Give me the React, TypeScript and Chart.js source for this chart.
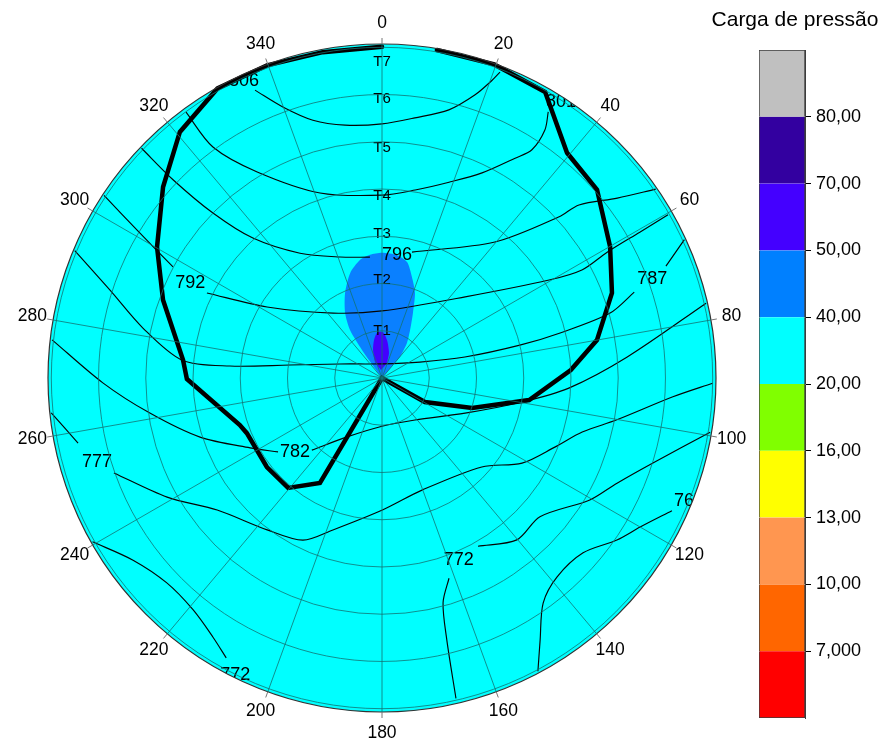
import React, { useEffect, useRef } from 'react';
import { Chart, registerables } from 'chart.js';

Chart.register(...registerables);

type P = [number, number]; // [bearing in degrees, radial value]

const FONT = '"Liberation Sans", Arial, Helvetica, sans-serif';

// ---- polar axis ----
const RMAX = 7.07;
const ringValues = [1, 2, 3, 4, 5, 6, 7, RMAX];
const bearingLabels = ['0', '20', '40', '60', '80', '100', '120', '140', '160', '180', '200', '220', '240', '260', '280', '300', '320', '340'];

// ---- thick black envelope (bearing, radius) ----
const boundaryPath: P[] = [
  [9.5, 7.04], [19.7, 7.05], [29.7, 6.97], [39.4, 6.17], [48.8, 6.05], [60.1, 5.57], [69.7, 5.19],
  [80.0, 4.62], [87.6, 4.0], [98.5, 3.15], [108.4, 2.01], [119.2, 1.04], [165, 0],
  [210.6, 2.58], [220.5, 3.06], [232.3, 3.08], [247.8, 3.09], [251.7, 3.17], [269.7, 4.13], [275.2, 4.23],
  [289.6, 4.92], [300.2, 5.51], [311.1, 6.15], [320.6, 6.74], [330.4, 7.05], [339.8, 7.05], [349.7, 7.01], [360, 7.01],
];

// ---- filled zones ----
const blobOuter: P[] = [
  [180, 0], [324.5, 0.73], [326.3, 1.22], [330.4, 1.58], [336.5, 1.96], [343.1, 2.32], [349.4, 2.54], [354.4, 2.62],
  [0, 2.65], [7.0, 2.62], [12.2, 2.51], [16.5, 2.23], [21.2, 1.93], [25.5, 1.52], [30.3, 1.18], [35.5, 0.91], [40.6, 0.59],
];
const blobInner: P[] = [
  [352.9, 0.17], [336.4, 0.37], [342.2, 0.62], [348.1, 0.82], [353.7, 0.96], [1.2, 0.97], [7.5, 0.81], [15.6, 0.55], [18.4, 0.33],
];

// ---- contour lines (runs, broken at labels) ----
const contour806: P[][] = [
  [[336.2, 6.66], [339.9, 6.11], [345.0, 5.65], [351.7, 5.41], [0, 5.38], [7.2, 5.55], [14.0, 5.85], [18.2, 6.31], [20.3, 6.72], [21.1, 6.94]],
];
const contour801: P[][] = [
  [[323.6, 6.99], [323.8, 6.06], [328.8, 5.10], [341.5, 4.13], [0, 3.87], [10.0, 4.04], [18.9, 4.38], [26.0, 4.83], [31.2, 5.44], [33.3, 5.78], [33.3, 6.28], [32.0, 6.64]],
];
const contour796: P[][] = [
  [[313.7, 7.04], [313.5, 6.09], [314.3, 5.0], [317.3, 4.03], [326.7, 3.16], [340.9, 2.71], [354.3, 2.57]],
  [[13.4, 2.74], [39.7, 3.74], [47.7, 5.07], [48.7, 5.55], [52.6, 6.27], [55.4, 7.04]],
];
const contour792: P[][] = [
  [[303.3, 7.04], [300.9, 5.97], [298.0, 5.01]],
  [[295.9, 4.12], [301.7, 2.86], [323.0, 1.72], [0, 1.42], [45.7, 2.46], [59.6, 4.10], [61.6, 4.81], [60.8, 5.46], [60.5, 6.27], [60.3, 6.97]],
];
const contour787: P[][] = [
  [[292.5, 7.04], [287.9, 6.05], [281.8, 5.17], [275.1, 4.25], [274.5, 3.23], [278.0, 1.97], [288.4, 0.94], [0, 0.30],
    [67.2, 0.87], [75.8, 1.81], [76.6, 3.00], [75.8, 3.89], [74.1, 5.02], [71.2, 5.64]],
  [[68.5, 6.46], [65.4, 7.04]],
];
const contour782: P[][] = [
  [[276.6, 7.03], [269.0, 5.91], [261.4, 4.97], [252.0, 4.05], [242.1, 3.16], [234.6, 2.70]],
  [[224.2, 2.13], [210.7, 1.45], [180, 1.02], [141.8, 1.13], [112.9, 1.91], [99.7, 3.01], [93.1, 3.96], [85.1, 5.21], [77.0, 7.04]],
];
const contour777: P[][] = [
  [[264.0, 7.04], [257.9, 6.58]],
  [[250.5, 6.02], [241.0, 5.20], [231.3, 4.47], [217.1, 4.03], [206.0, 3.82], [197.9, 3.38], [179.6, 2.79], [160.4, 2.52],
    [131.7, 2.83], [121.3, 3.47], [111.8, 3.94], [105.1, 4.39], [100.1, 5.05], [93.7, 6.17], [90.9, 7.0]],
];
const contour772: P[][] = [
  [[240.5, 7.04], [233.8, 6.53], [226.4, 6.29], [219.2, 6.33], [213.1, 6.55], [209.1, 6.78]],
  [[167.0, 6.96], [166.1, 5.71], [164.8, 4.93], [161.5, 4.47]],
  [[150.3, 4.10], [140.2, 4.46], [131.3, 4.45], [120.4, 5.10], [114.1, 5.45], [107.4, 6.01], [99.4, 7.04]],
];
const contour767: P[][] = [
  [[114.6, 6.75], [120.0, 6.31], [124.6, 6.04], [131.0, 5.64], [138.7, 5.61], [144.4, 5.86], [148.9, 6.48], [152.0, 7.03]],
];

// contour value labels: [text, bearing, radius]
const contourLabels: [string, number, number][] = [
  ['806', 335.1, 6.94], ['801', 33.0, 6.96], ['796', 7.0, 2.62], ['792', 296.3, 4.53], ['787', 69.9, 6.09],
  ['782', 229.6, 2.42], ['777', 253.6, 6.29], ['772', 157.1, 4.18], ['772', 206.3, 7.01], ['767', 111.8, 7.0],
];

// station labels along bearing 0
const stationNames = ['T1', 'T2', 'T3', 'T4', 'T5', 'T6', 'T7'];
const stationRadii = [0.99, 2.07, 3.06, 3.85, 4.88, 5.91, 6.69];
const stationBearing = 0;

// ---- colour scale ----
const legendTitle = 'Carga de pressão';
const legendColors = ['#FF0000', '#FF6600', '#FF9650', '#FFFF00', '#80FF00', '#00FFFF', '#0080FF', '#4400FF', '#3300A0', '#C0C0C0'];
const legendTickLabels = ['7,000', '10,00', '13,00', '16,00', '20,00', '40,00', '50,00', '70,00', '80,00'];

// ---------------------------------------------------------------
const rad = (d: number) => (d * Math.PI) / 180;
const toXY = (pts: P[]) => pts.map(([b, r]) => ({ x: r * Math.sin(rad(b)), y: r * Math.cos(rad(b)) }));

const contourRuns: P[][] = [
  ...contour806, ...contour801, ...contour796, ...contour792, ...contour787,
  ...contour782, ...contour777, ...contour772, ...contour767,
];

const polarDecor = {
  id: 'polarDecor',
  beforeDatasetsDraw(chart: any) {
    const r = chart.scales.r;
    const ctx = chart.ctx;
    ctx.save();
    ctx.beginPath();
    ctx.arc(r.xCenter, r.yCenter, r.drawingArea, 0, Math.PI * 2);
    ctx.fillStyle = '#00FFFF';
    ctx.fill();
    ctx.restore();
  },
  beforeDatasetDraw(chart: any, args: any) {
    if (args.index !== 0) return;
    const r = chart.scales.r;
    const ctx = chart.ctx;
    const at = (b: number, v: number) => r.getPointPosition(0, r.getDistanceFromCenterForValue(v), rad(b));
    ctx.save();
    ctx.beginPath();
    ctx.arc(r.xCenter, r.yCenter, r.drawingArea, 0, Math.PI * 2);
    ctx.clip();
    ctx.fillStyle = '#000';
    ctx.textAlign = 'center';
    ctx.textBaseline = 'middle';
    ctx.font = `15px ${FONT}`;
    stationNames.forEach((name, i) => {
      const p = at(stationBearing, stationRadii[i]);
      ctx.fillText(name, p.x, p.y);
    });
    ctx.font = `18px ${FONT}`;
    contourLabels.forEach(([t, b, v]) => {
      const p = at(b, v);
      ctx.fillText(t, p.x, p.y);
    });
    ctx.restore();
  },
  afterDraw(chart: any) {
    const r = chart.scales.r;
    const ctx = chart.ctx;
    ctx.save();
    ctx.strokeStyle = '#777';
    ctx.lineWidth = 1;
    ctx.fillStyle = '#000';
    ctx.font = `17.5px ${FONT}`;
    ctx.textAlign = 'center';
    ctx.textBaseline = 'middle';
    bearingLabels.forEach((lab, i) => {
      const a = r.getPointPosition(i, r.drawingArea);
      const b = r.getPointPosition(i, r.drawingArea + 6);
      ctx.beginPath();
      ctx.moveTo(a.x, a.y);
      ctx.lineTo(b.x, b.y);
      ctx.stroke();
      const t = r.getPointPosition(i, r.drawingArea + 21);
      ctx.fillText(lab, t.x, t.y);
    });
    ctx.restore();
  },
};

function mainConfig(): any {
  const datasets: any[] = [
    {
      label: 'envoltória',
      data: toXY(boundaryPath),
      showLine: true,
      borderColor: '#000',
      borderWidth: 4.5,
      borderCapStyle: 'round',
      tension: 0,
      fill: false,
    },
    ...contourRuns.map((run, i) => ({
      label: `contorno ${i}`,
      data: toXY(run),
      showLine: true,
      borderColor: '#050505',
      borderWidth: 1.15,
      tension: 0.3,
      fill: false,
    })),
    {
      label: '50-70',
      data: toXY(blobInner),
      showLine: true,
      borderWidth: 0,
      backgroundColor: '#4400FF',
      fill: 'shape',
      tension: 0.25,
    },
    {
      label: '40-50',
      data: toXY(blobOuter),
      showLine: true,
      borderWidth: 0,
      backgroundColor: '#0A80FF',
      fill: 'shape',
      tension: 0.25,
    },
  ];
  return {
    type: 'scatter',
    data: { labels: bearingLabels, datasets },
    options: {
      animation: false,
      responsive: false,
      events: [],
      layout: { padding: { left: 48, right: 168, top: 44, bottom: 28 } },
      elements: { point: { radius: 0 } },
      plugins: { legend: { display: false }, tooltip: { enabled: false }, title: { display: false } },
      scales: {
        x: { type: 'linear', display: false, min: -RMAX, max: RMAX },
        y: { type: 'linear', display: false, min: -RMAX, max: RMAX },
        r: {
          type: 'radialLinear',
          min: 0,
          max: RMAX,
          startAngle: 0,
          afterBuildTicks: (scale: any) => {
            scale.ticks = [0, ...ringValues].map((value) => ({ value }));
          },
          ticks: { display: false },
          pointLabels: { display: false },
          angleLines: { display: true, color: '#137272', lineWidth: 0.8 },
          grid: {
            circular: true,
            z: 1,
            color: (ctx: any) => (ctx.tick && ctx.tick.value >= RMAX ? '#333' : '#137272'),
            lineWidth: (ctx: any) => (ctx.tick && ctx.tick.value >= RMAX ? 1.2 : 0.8),
          },
        },
      },
    },
    plugins: [polarDecor],
  };
}

function legendConfig(): any {
  const n = legendColors.length;
  return {
    type: 'bar',
    data: {
      labels: [''],
      datasets: legendColors.map((c, i) => ({
        label: c,
        data: [1],
        yAxisID: 'y',
        backgroundColor: c,
        borderColor: '#3c3c3c',
        borderWidth: { left: 1, right: 1, top: i === n - 1 ? 1 : 0, bottom: i === 0 ? 1 : 0 },
        borderSkipped: false,
        barPercentage: 1,
        categoryPercentage: 1,
      })),
    },
    options: {
      animation: false,
      responsive: false,
      events: [],
      layout: { padding: { left: 0, right: 0, top: 0, bottom: 22 } },
      plugins: {
        legend: { display: false },
        tooltip: { enabled: false },
        title: {
          display: true,
          text: legendTitle,
          color: '#000',
          font: { family: FONT, size: 21, weight: 'normal' },
          padding: { top: 8, bottom: 16.8 },
        },
      },
      scales: {
        x: { stacked: true, display: false },
        y: {
          stacked: true,
          position: 'right',
          min: 0,
          max: n,
          afterBuildTicks: (scale: any) => {
            scale.ticks = legendTickLabels.map((_, i) => ({ value: i + 1 }));
          },
          afterFit: (scale: any) => {
            scale.width = 79;
          },
          ticks: {
            callback: (v: any) => legendTickLabels[Math.round(Number(v)) - 1] ?? '',
            color: '#000',
            font: { family: FONT, size: 18 },
            padding: 5,
          },
          grid: { drawOnChartArea: false, drawTicks: true, tickLength: 6, color: '#000' },
          border: { display: true, color: '#3c3c3c' },
        },
        spacer: {
          type: 'linear',
          axis: 'y',
          position: 'left',
          display: true,
          ticks: { display: false },
          grid: { display: false, drawTicks: false },
          border: { display: false },
          afterFit: (scale: any) => {
            scale.width = 53;
          },
        },
      },
    },
  };
}

export default function App() {
  const mainRef = useRef<HTMLCanvasElement>(null);
  const legendRef = useRef<HTMLCanvasElement>(null);

  useEffect(() => {
    const main = new Chart(mainRef.current as HTMLCanvasElement, mainConfig());
    const legend = new Chart(legendRef.current as HTMLCanvasElement, legendConfig());
    return () => {
      main.destroy();
      legend.destroy();
    };
  }, []);

  return (
    <div style={{ position: 'fixed', left: 0, top: 0, width: 884, height: 740, background: '#fff', overflow: 'hidden' }}>
      <canvas
        ref={mainRef}
        width={884}
        height={740}
        style={{ position: 'absolute', left: 0, top: 0, width: 884, height: 740 }}
      />
      <canvas
        ref={legendRef}
        width={178}
        height={740}
        style={{ position: 'absolute', left: 706, top: 0, width: 178, height: 740 }}
      />
    </div>
  );
}
